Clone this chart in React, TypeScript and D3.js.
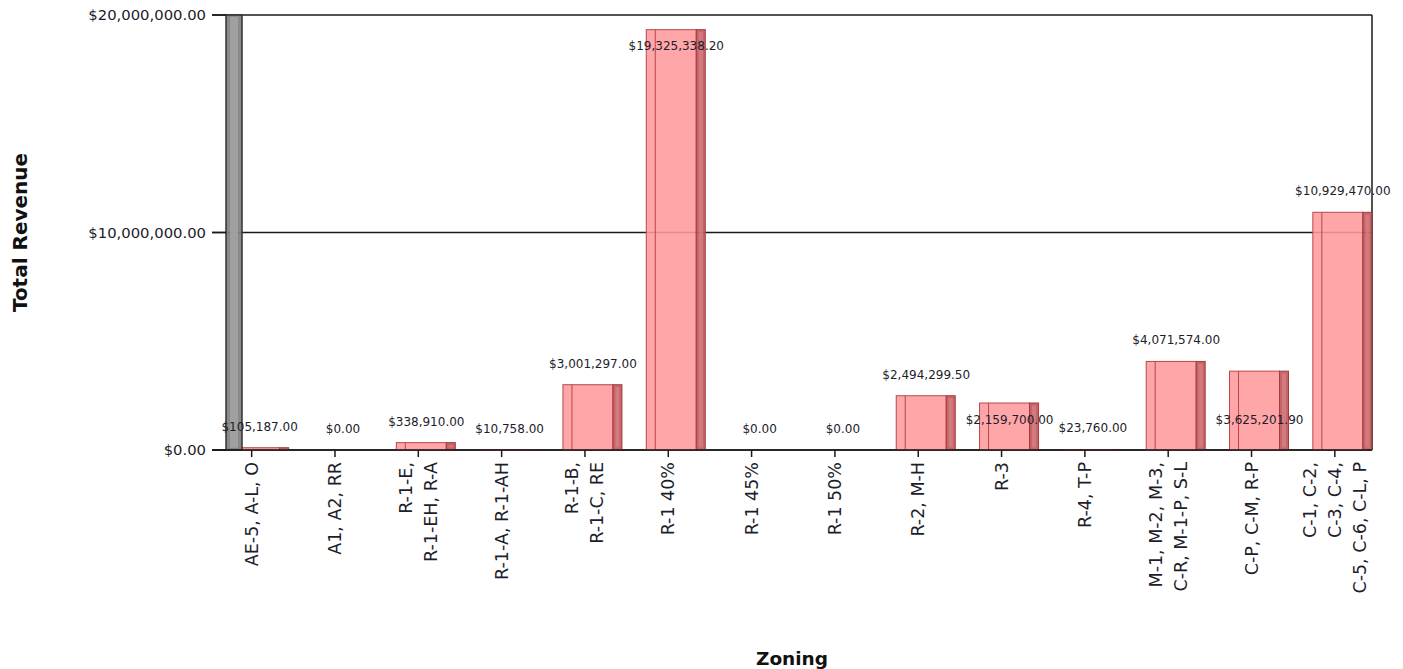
import React from 'react';
import * as d3 from 'd3';

// Zoning groups shown along the x axis
const categories = [
  'AE-5, A-L, O',
  'A1, A2, RR',
  'R-1-E, R-1-EH, R-A',
  'R-1-A, R-1-AH',
  'R-1-B, R-1-C, RE',
  'R-1 40%',
  'R-1 45%',
  'R-1 50%',
  'R-2, M-H',
  'R-3',
  'R-4, T-P',
  'M-1, M-2, M-3, C-R, M-1-P, S-L',
  'C-P, C-M, R-P',
  'C-1, C-2, C-3, C-4, C-5, C-6, C-L, P',
];

// How each category label is broken into lines
const categoryLines: string[][] = [
  ['AE-5, A-L, O'],
  ['A1, A2, RR'],
  ['R-1-E,', 'R-1-EH, R-A'],
  ['R-1-A, R-1-AH'],
  ['R-1-B,', 'R-1-C, RE'],
  ['R-1 40%'],
  ['R-1 45%'],
  ['R-1 50%'],
  ['R-2, M-H'],
  ['R-3'],
  ['R-4, T-P'],
  ['M-1, M-2, M-3,', 'C-R, M-1-P, S-L'],
  ['C-P, C-M, R-P'],
  ['C-1, C-2,', 'C-3, C-4,', 'C-5, C-6, C-L, P'],
];

// Total revenue per zoning group
const revenue = [
  105187.0,
  0.0,
  338910.0,
  10758.0,
  3001297.0,
  19325338.2,
  0.0,
  0.0,
  2494299.5,
  2159700.0,
  23760.0,
  4071574.0,
  3625201.9,
  10929470.0,
];

// Where each value label sits: above the bar, inside its top, or low near the floor
const labelPlacement = [
  'above', 'above', 'above', 'above', 'above', 'inside', 'above',
  'above', 'above', 'low', 'above', 'above', 'low', 'above',
];

const yTicks = [0, 10000000, 20000000];

const W = 1403;
const H = 669;
const PLOT = { left: 226, right: 1372, top: 15, bottom: 450 };
const WALL = 16;
const FONT = '"DejaVu Sans", Verdana, sans-serif';
const TEXT = '#1d1d2b';

export default function App() {
  const x = d3.scaleBand<string>().domain(categories).range([210, 1376.5]);
  const y = d3.scaleLinear().domain([0, 20000000]).range([PLOT.bottom, PLOT.top]);
  const money = (v: number) => '$' + d3.format(',.2f')(v);
  const bw = x.bandwidth();
  const center = (c: string) => (x(c) as number) + bw / 2;

  return (
    <div style={{ position: 'absolute', left: 0, top: 0 }}>
      <svg width={W} height={H} style={{ display: 'block', background: '#fff' }}>
        {/* grid and frame */}
        {yTicks.map((t) => (
          <line key={'g' + t} x1={212} x2={PLOT.right} y1={y(t)} y2={y(t)} stroke="#1a1a1a" strokeWidth={1.5} />
        ))}
        <line x1={PLOT.right} x2={PLOT.right} y1={PLOT.top} y2={PLOT.bottom} stroke="#1a1a1a" strokeWidth={1.5} />

        {/* y tick labels */}
        {yTicks.map((t) => (
          <text key={'yl' + t} x={206} y={y(t)} dy="0.35em" textAnchor="end" fontFamily={FONT} fontSize={14.8} fill={TEXT}>
            {money(t)}
          </text>
        ))}

        {/* bars */}
        {categories.map((c, i) => {
          const v = revenue[i];
          if (v <= 0) return null;
          const cx = center(c);
          const top = y(v);
          const h = y(0) - top;
          const fx0 = cx - 0.264 * bw;
          const fx1 = cx + 0.336 * bw;
          const sx1 = cx + 0.444 * bw;
          return (
            <g key={'b' + c}>
              <rect x={fx0} y={top} width={fx1 - fx0} height={h} fill="#ff9a9c" fillOpacity={0.88} stroke="#b8474a" strokeWidth={1} />
              <line x1={cx - 0.156 * bw} x2={cx - 0.156 * bw} y1={top} y2={y(0)} stroke="#b8474a" strokeWidth={1} />
              <rect x={fx1} y={top} width={sx1 - fx1} height={h} fill="#c2585c" fillOpacity={0.92} stroke="#a53a3e" strokeWidth={1} />
              {h > 6 && (
                <rect x={fx1 + 2.5} y={top + 2.5} width={sx1 - fx1 - 5} height={Math.max(0, h - 5)} fill="#d98a8d" fillOpacity={0.6} />
              )}
            </g>
          );
        })}

        {/* left wall */}
        <rect x={PLOT.left} y={PLOT.top} width={WALL} height={PLOT.bottom - PLOT.top} fill="#808080" fillOpacity={0.92} stroke="#333" strokeWidth={1.5} />
        <rect x={PLOT.left + 4} y={PLOT.top + 2} width={WALL - 8} height={PLOT.bottom - PLOT.top - 4} fill="#a3a3a3" fillOpacity={0.85} />

        {/* y tick marks */}
        {yTicks.map((t) => (
          <line key={'yt' + t} x1={212} x2={PLOT.left} y1={y(t)} y2={y(t)} stroke="#1a1a1a" strokeWidth={1.5} />
        ))}

        {/* x axis baseline and ticks */}
        <line x1={212} x2={PLOT.right} y1={PLOT.bottom} y2={PLOT.bottom} stroke="#1a1a1a" strokeWidth={1.5} />
        {categories.map((c) => (
          <line key={'xt' + c} x1={center(c)} x2={center(c)} y1={PLOT.bottom} y2={PLOT.bottom + 7} stroke="#1a1a1a" strokeWidth={1.5} />
        ))}

        {/* value labels */}
        {categories.map((c, i) => {
          const v = revenue[i];
          const top = y(v);
          const mode = labelPlacement[i];
          const ly = mode === 'inside' ? top + 20 : mode === 'low' ? y(0) - 26 : top - 17;
          return (
            <text key={'vl' + c} x={center(c) + 8} y={ly} textAnchor="middle" fontFamily={FONT} fontSize={12} fill={TEXT}>
              {money(v)}
            </text>
          );
        })}

        {/* category labels, rotated */}
        {categories.map((c, i) => {
          const lines = categoryLines[i];
          const n = lines.length;
          return (
            <g key={'cl' + c}>
              {lines.map((ln, j) => {
                const lx = center(c) + (j - (n - 1) / 2) * 25;
                const ly = 462;
                return (
                  <text
                    key={j}
                    transform={`translate(${lx},${ly}) rotate(-90)`}
                    textAnchor="end"
                    dominantBaseline="central"
                    fontFamily={FONT}
                    fontSize={17.5}
                    fill={TEXT}
                  >
                    {ln}
                  </text>
                );
              })}
            </g>
          );
        })}

        {/* axis titles */}
        <text transform={`translate(20,${(PLOT.top + PLOT.bottom) / 2}) rotate(-90)`} textAnchor="middle" dominantBaseline="central" fontFamily={FONT} fontWeight="bold" fontSize={20} fill="#111">
          Total Revenue
        </text>
        <text x={(212 + PLOT.right) / 2} y={659} dy="0.35em" textAnchor="middle" fontFamily={FONT} fontWeight="bold" fontSize={18.5} fill="#111">
          Zoning
        </text>
      </svg>
    </div>
  );
}
